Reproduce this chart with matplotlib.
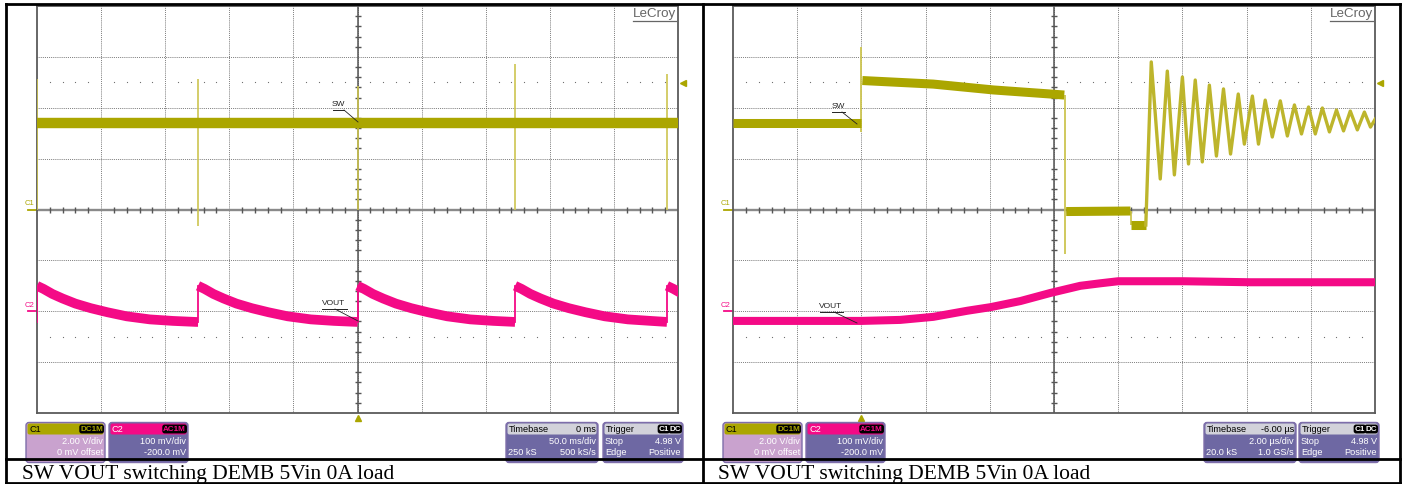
import numpy as np
import matplotlib
matplotlib.use('Agg')
import matplotlib.pyplot as plt
from matplotlib.patches import FancyBboxPatch

# ------------------------------------------------------------------ data
# Left capture: 50 ms/div, C1 = SW (2 V/div), C2 = VOUT (100 mV/div, -200 mV offset)
left_xlim_ms = (-250.0, 250.0)
left_sw_level_v = 3.42
left_spike_t_ms = [-250.0, -124.4, 0.0, 122.9, 241.4]
left_spike_hi_v = [5.13, 5.13, 4.86, 5.72, 5.33]
left_spike_lo_v = [0.0, -0.65, 0.0, 0.0, 0.0]
left_vout_jump_t_ms = [-250.0, -124.4, 0.0, 122.9, 241.4]
left_vout_decay_dt_ms = [0, 5, 12, 20, 30, 42, 55, 70, 88, 106, 124]
left_vout_decay_mv = [50, 44, 34, 25, 15, 6, -2, -10, -16, -19, -21]

# Right capture: 2 us/div, trigger at 0 us
right_xlim_us = (-4.0, 16.0)
right_sw_low_t = [-4.0, 0.0]
right_sw_low_v = [3.41, 3.41]
right_sw_high_t = [0.03, 2.24, 4.11, 5.89, 6.32]
right_sw_high_v = [5.07, 4.93, 4.70, 4.54, 4.50]
right_sw_off_t = [6.38, 8.38]
right_sw_off_v = [-0.08, -0.06]
right_sw_dip_t = [8.40, 8.86]
right_sw_dip_v = [-0.61, -0.61]
right_sw_edge_t = [0.0, 6.35, 8.39]
right_sw_edge_hi = [6.39, 4.50, -0.06]
right_sw_edge_lo = [3.05, -1.75, -0.61]
right_ring_t = [8.86, 9.03, 9.31, 9.53, 9.75, 10.00, 10.19, 10.40, 10.62, 10.84,
                11.06, 11.28, 11.50, 11.74, 11.93, 12.18, 12.37, 12.58, 12.80,
                13.05, 13.27, 13.49, 13.71, 13.93, 14.14, 14.36, 14.58, 14.80,
                15.02, 15.23, 15.45, 15.67, 15.86, 16.01]
right_ring_v = [-0.61, 5.80, 1.20, 5.44, 1.36, 5.21, 1.79, 5.09, 1.87, 4.89,
                2.10, 4.74, 2.18, 4.54, 2.57, 4.46, 2.57, 4.30, 2.85,
                4.27, 2.89, 4.11, 2.97, 4.03, 2.97, 3.99, 3.05, 3.91,
                3.09, 3.87, 3.13, 3.83, 3.24, 3.56]
right_vout_t = [-4.0, 0.0, 1.21, 2.24, 3.30, 4.02, 4.95, 5.89, 6.82, 7.45, 8.0,
                10.03, 12.12, 16.0]
right_vout_mv = [-19, -19, -17, -11, 1, 8, 20, 36, 50, 55, 59, 59, 57, 57]

c1_v_per_div = 2.0
c2_mv_per_div = 100.0
c2_offset_mv = -200.0
trigger_level_v = 4.98

caption = "SW VOUT switching DEMB 5Vin 0A load"
c1_info = ["2.00 V/div", "0 mV offset"]
c2_info = ["100 mV/div", "-200.0 mV"]
left_tb = ["0 ms", "50.0 ms/div", "250 kS", "500 kS/s"]
right_tb = ["-6.00 µs", "2.00 µs/div", "20.0 kS", "1.0 GS/s"]
trig_info = ["Stop", "4.98 V", "Edge", "Positive"]

# ------------------------------------------------------------------ style
OLIVE = '#ABA600'
SPIKE = '#CDC550'
RING = '#BDB52C'
PINK = '#F40A86'
BODY1 = '#C9A2CE'
BODY2 = '#6E68A3'
EDGE = '#7E6EAA'
HEAD_GRAY = '#D2D2DA'

W, H = 1405, 485
fig = plt.figure(figsize=(W / 100, H / 100), dpi=100)
fig.patch.set_facecolor('white')


def c1(v):
    return np.asarray(v, float) / c1_v_per_div


def c2(mv):
    return (np.asarray(mv, float) + c2_offset_mv) / c2_mv_per_div


def make_scope(px0, px1, xlim):
    top, bot = 7, 414
    ax = fig.add_axes([px0 / W, (H - bot) / H, (px1 - px0) / W, (bot - top) / H])
    ax.set_xlim(xlim)
    ax.set_ylim(-4, 4)
    ax.set_facecolor('none')
    div = (xlim[1] - xlim[0]) / 10
    ax.set_xticks([xlim[0] + k * div for k in range(1, 10)])
    ax.set_yticks(range(-3, 4))
    ax.tick_params(length=0, labelbottom=False, labelleft=False)
    ax.set_axisbelow(True)
    ax.grid(True, color='#555555', lw=0.6, linestyle=(0, (1.0, 1.3)))
    for s in ax.spines.values():
        s.set_color('#5a5a5a')
        s.set_linewidth(1.3)
    cx = (xlim[0] + xlim[1]) / 2
    ax.axhline(0, color='#8a8a8a', lw=1.7, zorder=1)
    ax.axvline(cx, color='#555555', lw=1.1, zorder=1)
    mx = [xlim[0] + k * div / 5 for k in range(1, 50) if k % 5]
    ax.plot(mx, [0] * len(mx), ls='none', marker='|', ms=4, mew=1.0,
            color='#555555', zorder=1)
    my = [-4 + k * 0.2 for k in range(1, 40) if k % 5]
    ax.plot([cx] * len(my), my, ls='none', marker='_', ms=4, mew=1.0,
            color='#555555', zorder=1)
    for yy in (2.5, -2.5):
        ax.plot(mx, [yy] * len(mx), ls='none', marker='s', ms=0.8, mew=0,
                color='#707070', zorder=1)
    # trigger level & position markers
    ax.plot(xlim[1] + 0.08 * div, trigger_level_v / c1_v_per_div, marker='<',
            ms=5, color=OLIVE, clip_on=False, zorder=5)
    ax.plot(0, -4.09, marker='^', ms=5, color=OLIVE, clip_on=False, zorder=5)
    # channel ground markers
    for lvl, lab, col in ((0.0, 'C1', OLIVE), (c2(0.0), 'C2', PINK)):
        ax.plot([xlim[0] - 0.14 * div, xlim[0]], [lvl, lvl], color=col, lw=1.3,
                clip_on=False)
        ax.text(xlim[0] - 0.2 * div, lvl + 0.06, lab, fontsize=5.5, color=col,
                ha='left', va='bottom', family='Liberation Sans', clip_on=False)
    return ax


# ------------------------------------------------------------------ left scope
axL = make_scope(37, 678, left_xlim_ms)
axL.vlines(left_spike_t_ms, c1(left_spike_lo_v), c1(left_spike_hi_v),
           color=SPIKE, lw=1.2, zorder=3)
axL.plot(left_xlim_ms, c1([left_sw_level_v] * 2), color=OLIVE, lw=7.5,
         solid_capstyle='butt', zorder=4)
jumps = list(left_vout_jump_t_ms) + [left_xlim_ms[1] + 200]
for i in range(len(left_vout_jump_t_ms)):
    t0 = jumps[i]
    ts, vs = [], []
    for dt, mv in zip(left_vout_decay_dt_ms, left_vout_decay_mv):
        if t0 + dt < jumps[i + 1]:
            ts.append(t0 + dt)
            vs.append(mv)
    if t0 + left_vout_decay_dt_ms[-1] > jumps[i + 1] or ts[-1] < jumps[i + 1]:
        ts.append(min(jumps[i + 1], t0 + left_vout_decay_dt_ms[-1] + 30))
        vs.append(left_vout_decay_mv[-1])
    axL.plot(ts, c2(vs), color=PINK, lw=7, solid_joinstyle='round',
             solid_capstyle='butt', zorder=4)
    axL.plot([t0, t0], c2([left_vout_decay_mv[-1], left_vout_decay_mv[0]]),
             color=PINK, lw=1.3, zorder=4)

# ------------------------------------------------------------------ right scope
axR = make_scope(733, 1375, right_xlim_us)
axR.vlines(right_sw_edge_t, c1(right_sw_edge_lo), c1(right_sw_edge_hi),
           color=SPIKE, lw=1.3, zorder=3)
for ts, vs in ((right_sw_low_t, right_sw_low_v), (right_sw_high_t, right_sw_high_v),
               (right_sw_off_t, right_sw_off_v), (right_sw_dip_t, right_sw_dip_v)):
    axR.plot(ts, c1(vs), color=OLIVE, lw=6.5, solid_capstyle='butt', zorder=4)
axR.plot(right_ring_t, c1(right_ring_v), color=RING, lw=2.4,
         solid_joinstyle='round', zorder=4)
axR.plot(right_vout_t, c2(right_vout_mv), color=PINK, lw=5.8,
         solid_capstyle='butt', zorder=4)

# ------------------------------------------------------------------ overlay (table, captions, info boxes)
ov = fig.add_axes([0, 0, 1, 1], zorder=10)
ov.set_xlim(0, W)
ov.set_ylim(H, 0)
ov.axis('off')
ov.patch.set_alpha(0)

LK = dict(color='black', lw=2.0, solid_capstyle='projecting')
ov.plot([6, 1400], [4.5, 4.5], **LK)
ov.plot([6, 1400], [459.5, 459.5], **LK)
ov.plot([6, 1400], [484, 484], **LK)
for xx in (6, 703, 1399.5):
    ov.plot([xx, xx], [4.5, 484], **LK)

for x0 in (22, 718):
    ov.text(x0, 479, caption, family='Liberation Serif', fontsize=15.5,
            ha='left', va='baseline', color='black')

# LeCroy logos
for xr in (676, 1373):
    ov.text(xr, 14.5, 'LeCroy', family='Liberation Sans', fontsize=9.6,
            color='#666666', ha='right', va='center')
    ov.plot([xr - 43, xr], [21.5, 21.5], color='#666666', lw=0.9)

# trace labels with leader lines
labels = [('SW', 338, 105, 333, 344, 110.5, (344, 111), (358, 123)),
          ('SW', 838, 107, 832, 845, 112.5, (842, 113), (857, 125)),
          ('VOUT', 334, 304, 322, 347, 309.5, (335, 310), (358, 322)),
          ('VOUT', 831, 307, 820, 843, 312.5, (834, 313), (857, 324))]
for txt, tx, ty, u0, u1, uy, p0, p1 in labels:
    ov.text(tx, ty, txt, family='Liberation Sans', fontsize=6, color='#222222',
            ha='center', va='center')
    ov.plot([u0, u1], [uy, uy], color='#222222', lw=0.7)
    ov.plot([p0[0], p1[0]], [p0[1], p1[1]], color='#222222', lw=0.6)

FS = 6.6
FAM = 'Liberation Sans'


def box(x0, x1, head_col, body_col):
    ov.add_patch(FancyBboxPatch((x0, 423.5), x1 - x0, 40, boxstyle='round,pad=0,rounding_size=3',
                                fc=body_col, ec=EDGE, lw=1.0, zorder=1))
    ov.add_patch(FancyBboxPatch((x0 + 1.5, 424.5), x1 - x0 - 3, 11,
                                boxstyle='round,pad=0,rounding_size=2',
                                fc=head_col, ec='none', zorder=2))


def tag(x, y, s, fc, tc):
    ov.text(x, y, s, family=FAM, fontsize=5.8, fontweight='bold', color=tc,
            ha='right', va='center', zorder=4,
            bbox=dict(boxstyle='round,pad=0.12,rounding_size=0.3', fc=fc, ec='none'))


def panel(c1x, c2x, tbx, trx, tb):
    box(c1x, c1x + 79, OLIVE, BODY1)
    ov.text(c1x + 3, 430, 'C1', family=FAM, fontsize=FS, color='black', va='center', zorder=3)
    tag(c1x + 77, 430, 'DC1M', 'black', OLIVE)
    ov.text(c1x + 77, 442, c1_info[0], family=FAM, fontsize=FS, color='white', ha='right', va='center', zorder=3)
    ov.text(c1x + 77, 453, c1_info[1], family=FAM, fontsize=FS, color='white', ha='right', va='center', zorder=3)
    box(c2x, c2x + 79, PINK, BODY2)
    ov.text(c2x + 3, 430, 'C2', family=FAM, fontsize=FS, color='white', va='center', zorder=3)
    tag(c2x + 77, 430, 'AC1M', 'black', PINK)
    ov.text(c2x + 77, 442, c2_info[0], family=FAM, fontsize=FS, color='white', ha='right', va='center', zorder=3)
    ov.text(c2x + 77, 453, c2_info[1], family=FAM, fontsize=FS, color='white', ha='right', va='center', zorder=3)
    box(tbx, tbx + 92, HEAD_GRAY, BODY2)
    ov.text(tbx + 3, 430, 'Timebase', family=FAM, fontsize=FS, color='black', va='center', zorder=3)
    ov.text(tbx + 90, 430, tb[0], family=FAM, fontsize=FS, color='black', ha='right', va='center', zorder=3)
    ov.text(tbx + 90, 442, tb[1], family=FAM, fontsize=FS, color='white', ha='right', va='center', zorder=3)
    ov.text(tbx + 2, 453, tb[2], family=FAM, fontsize=FS, color='white', ha='left', va='center', zorder=3)
    ov.text(tbx + 90, 453, tb[3], family=FAM, fontsize=FS, color='white', ha='right', va='center', zorder=3)
    box(trx, trx + 80, HEAD_GRAY, BODY2)
    ov.text(trx + 3, 430, 'Trigger', family=FAM, fontsize=FS, color='black', va='center', zorder=3)
    tag(trx + 78, 430, 'DC', 'black', 'white')
    tag(trx + 66, 430, 'C1', 'black', 'white')
    ov.text(trx + 2, 442, trig_info[0], family=FAM, fontsize=FS, color='white', ha='left', va='center', zorder=3)
    ov.text(trx + 78, 442, trig_info[1], family=FAM, fontsize=FS, color='white', ha='right', va='center', zorder=3)
    ov.text(trx + 2, 453, trig_info[2], family=FAM, fontsize=FS, color='white', ha='left', va='center', zorder=3)
    ov.text(trx + 78, 453, trig_info[3], family=FAM, fontsize=FS, color='white', ha='right', va='center', zorder=3)


panel(26, 109, 506, 603, left_tb)
panel(723, 806, 1204, 1299, right_tb)

ov.add_patch(plt.Rectangle((8, 460.5), 1390, 22.5, fc='white', ec='none', zorder=0.5))

fig.savefig('out.png', dpi=100)
